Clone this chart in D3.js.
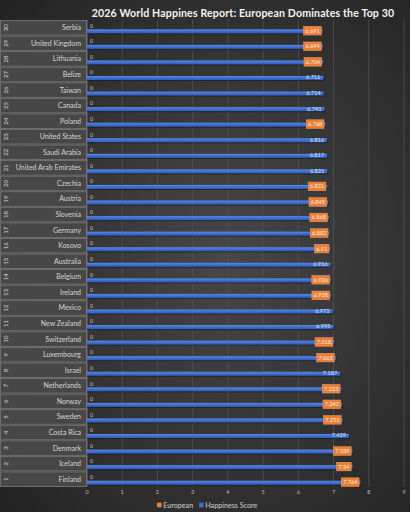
<!DOCTYPE html>
<html lang="en">
<head>
  <meta charset="UTF-8">
  <title>2026 World Happiness Report</title>
  <style>
    body { margin: 0; padding: 0; background: #2a2a2a; }
    svg { display: block; font-family: Lato, "Open Sans", sans-serif; }
  </style>
</head>
<body>
<svg width="410" height="512"></svg>
<script src="https://d3js.org/d3.v7.min.js"></script>
<script>
// ranks 1..30 from the report
const ranks = d3.range(1, 31);
const countries = ["Finland", "Iceland", "Denmark", "Costa Rica", "Sweden", "Norway",
  "Netherlands", "Israel", "Luxembourg", "Switzerland", "New Zealand", "Mexico",
  "Ireland", "Belgium", "Australia", "Kosovo", "Germany", "Slovenia", "Austria",
  "Czechia", "United Arab Emirates", "Saudi Arabia", "United States", "Poland",
  "Canada", "Taiwan", "Belize", "Lithuania", "United Kingdom", "Serbia"];
const scores = [7.764, 7.54, 7.539, 7.439, 7.255, 7.242, 7.223, 7.187, 7.063, 7.018,
  6.995, 6.972, 6.928, 6.926, 6.916, 6.91, 6.882, 6.868, 6.845, 6.821,
  6.821, 6.817, 6.816, 6.768, 6.741, 6.714, 6.711, 6.704, 6.694, 6.691];
const european = [1, 1, 1, 0, 1, 1, 1, 0, 1, 1, 0, 0, 1, 1, 0, 1, 1, 1, 1, 1,
  0, 0, 0, 1, 0, 0, 0, 1, 1, 1];
const europeanSeries = ranks.map(() => 0);
const xTicks = d3.range(0, 10);
const legendItems = ["European", "Happiness Score"];

const rows = ranks.map((r, i) => ({
  rank: r, country: countries[i], score: scores[i],
  eu: european[i] === 1, zero: europeanSeries[i]
}));

const W = 410, H = 512;
const plot = {left: 87, right: 404, top: 20, bottom: 487};

const svg = d3.select("svg");
const defs = svg.append("defs");

const bg = defs.append("radialGradient").attr("id", "bg")
  .attr("cx", "55%").attr("cy", "50%").attr("r", "75%");
bg.append("stop").attr("offset", "0%").attr("stop-color", "#474747");
bg.append("stop").attr("offset", "100%").attr("stop-color", "#222");

const barGrad = defs.append("linearGradient").attr("id", "bar")
  .attr("x1", 0).attr("x2", 0).attr("y1", 0).attr("y2", 1);
barGrad.append("stop").attr("offset", "0%").attr("stop-color", "#5a8ae6");
barGrad.append("stop").attr("offset", "50%").attr("stop-color", "#3b6fd4");
barGrad.append("stop").attr("offset", "100%").attr("stop-color", "#2f5cb6");

svg.append("rect").attr("width", W).attr("height", H).attr("fill", "url(#bg)");

const x = d3.scaleLinear().domain([0, 9]).range([plot.left, plot.right]);
const y = d3.scaleBand()
  .domain(ranks.slice().reverse())
  .range([plot.top, plot.bottom]);
const bh = y.bandwidth();

// gridlines
svg.append("g").selectAll("line")
  .data(xTicks.filter(d => d > 0))
  .join("line")
  .attr("x1", d => x(d)).attr("x2", d => x(d))
  .attr("y1", plot.top).attr("y2", plot.bottom)
  .attr("stroke", "#525252").attr("stroke-width", 0.8);

// x tick labels
svg.append("g").selectAll("text")
  .data(xTicks)
  .join("text")
  .attr("x", d => x(d)).attr("y", 494)
  .attr("text-anchor", "middle")
  .attr("font-size", 5.5).attr("fill", "#bfbfbf")
  .text(d => d);

// category axis boxes
const cat = svg.append("g");
cat.selectAll("rect")
  .data(rows)
  .join("rect")
  .attr("x", 0.5).attr("y", d => y(d.rank) + 0.5)
  .attr("width", plot.left - 1).attr("height", bh - 1)
  .attr("fill", "#474747")
  .attr("stroke", "#7a7a7a").attr("stroke-width", 0.8);

cat.selectAll("text.country")
  .data(rows)
  .join("text")
  .attr("class", "country")
  .attr("x", 81).attr("y", d => y(d.rank) + bh / 2)
  .attr("dy", "0.35em")
  .attr("text-anchor", "end")
  .attr("font-size", 7).attr("fill", "#d6d6d6")
  .text(d => d.country);

cat.selectAll("text.rank")
  .data(rows)
  .join("text")
  .attr("class", "rank")
  .attr("transform", d => `translate(5.5,${y(d.rank) + bh / 2}) rotate(-90)`)
  .attr("dy", "0.35em")
  .attr("text-anchor", "middle")
  .attr("font-size", 6).attr("fill", "#d6d6d6")
  .text(d => d.rank);

svg.append("line")
  .attr("x1", plot.left).attr("x2", plot.left)
  .attr("y1", plot.top).attr("y2", plot.bottom)
  .attr("stroke", "#7a7a7a").attr("stroke-width", 0.8);

// European series (all zero) labels
svg.append("g").selectAll("text")
  .data(rows)
  .join("text")
  .attr("x", x(0) + 3).attr("y", d => y(d.rank) + 5.8)
  .attr("dy", "0.35em")
  .attr("font-size", 5).attr("fill", "#d0d0d0")
  .text(d => d.zero);

// Happiness score bars
const barTop = 9.3, barH = 4;
const bars = svg.append("g");
bars.selectAll("rect.shadow")
  .data(rows)
  .join("rect")
  .attr("class", "shadow")
  .attr("x", x(0)).attr("y", d => y(d.rank) + barTop + 1)
  .attr("width", d => x(d.score) - x(0) + 1).attr("height", barH)
  .attr("fill", "#141414").attr("opacity", 0.55);
bars.selectAll("rect.bar")
  .data(rows)
  .join("rect")
  .attr("class", "bar")
  .attr("x", x(0)).attr("y", d => y(d.rank) + barTop)
  .attr("width", d => x(d.score) - x(0)).attr("height", barH)
  .attr("fill", "url(#bar)");

// data labels
const lab = svg.append("g").selectAll("g")
  .data(rows)
  .join("g")
  .attr("transform", d => `translate(${x(d.score) - 3},${y(d.rank) + barTop + barH / 2 - 0.6})`);

lab.each(function(d) {
  const g = d3.select(this);
  const t = g.append("text")
    .attr("text-anchor", "end")
    .attr("dy", "0.35em")
    .attr("font-size", 5.6)
    .attr("fill", d.eu ? "#fff3ea" : "#dbe5f7")
    .text(d.score);
  if (d.eu) {
    const w = t.node().getComputedTextLength();
    g.insert("rect", "text")
      .attr("x", -w - 1.8).attr("y", -4.3)
      .attr("width", w + 3.4).attr("height", 8.6)
      .attr("fill", "#ed7d31")
      .attr("stroke", "#f2a06b").attr("stroke-width", 0.5);
  }
});

// title
svg.append("text")
  .attr("x", 243).attr("y", 16.5)
  .attr("text-anchor", "middle")
  .attr("font-size", 10.6).attr("font-weight", "bold")
  .attr("fill", "#f2f2f2")
  .attr("letter-spacing", 0.15)
  .text("2026 World Happines Report: European Dominates the Top 30");

// legend
const legendColor = d3.scaleOrdinal().domain(legendItems).range(["#ed7d31", "#3b6fd4"]);
const legendX = d3.scaleOrdinal().domain(legendItems).range([157, 199]);
const lg = svg.append("g").selectAll("g")
  .data(legendItems)
  .join("g")
  .attr("transform", d => `translate(${legendX(d)},505)`);
lg.append("rect")
  .attr("x", 0).attr("y", -2.3).attr("width", 4.6).attr("height", 4.6)
  .attr("fill", d => legendColor(d));
lg.append("text")
  .attr("x", 6.2).attr("dy", "0.35em")
  .attr("font-size", 7.2).attr("fill", "#d0d0d0")
  .text(d => d);
</script>
</body>
</html>
